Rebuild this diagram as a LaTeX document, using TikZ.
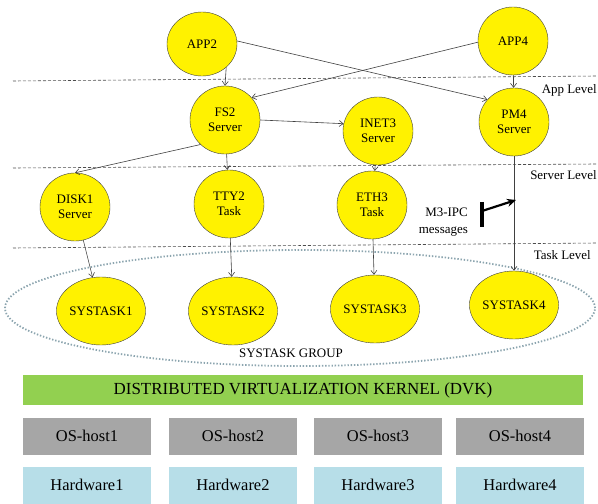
\documentclass[tikz,border=0pt]{standalone}
\usepackage{fontspec}
\setmainfont{Liberation Serif}
\usetikzlibrary{shapes.geometric,arrows.meta}
\definecolor{dvkgreen}{RGB}{146,208,80}
\definecolor{hostgray}{RGB}{166,166,166}
\definecolor{hwblue}{RGB}{183,222,232}
\definecolor{groupdot}{RGB}{140,165,175}
\definecolor{edgegray}{RGB}{64,64,64}
\tikzset{
  ProcStyle/.style = { ellipse, draw = black!75, fill = yellow,
                       minimum width = 70bp, minimum height = 68bp,
                       inner sep = 0pt, align = center,
                       font = \fontsize{13}{15}\selectfont },
  EdgeStyle/.style = { -{Straight Barb[length=4bp,width=6bp]},
                       draw = edgegray, line width = 0.6bp },
  LevelStyle/.style = { dash pattern = on 3bp off 2bp,
                        draw = black!70, line width = 0.6bp },
  LevelLabel/.style = { anchor = east, inner sep = 0pt,
                        font = \fontsize{13}{15}\selectfont },
  BoxStyle/.style = { minimum width = 128bp, minimum height = 37bp,
                      inner sep = 0pt, font = \fontsize{16.5}{18}\selectfont },
  IpcStyle/.style = { -{Stealth[length=9bp,width=8bp]},
                      line width = 2.2bp, black }
}

\begin{document}
\begin{tikzpicture}[x=1bp,y=-1bp]
  \useasboundingbox (0,0) rectangle (598,504);
  % level separators
  \draw[LevelStyle] (13,81) -- (597,76);
  \draw[LevelStyle] (13,168) -- (597,164);
  \draw[LevelStyle] (13,248) -- (597,243);
  \node[LevelLabel] (applvl) at (597,90) {App Level};
  \node[LevelLabel] (srvlvl) at (597,175) {Server Level};
  \node[LevelLabel] (tsklvl) at (591,255) {Task Level};

  % systask group
  \node[ellipse, draw = groupdot, line width = 1.8bp,
        dash pattern = on 1.4bp off 1.8bp,
        minimum width = 590bp, minimum height = 116bp] (group) at (300,308) {};
  \node[font=\fontsize{13}{15}\selectfont] (grouplbl) at (291,353) {SYSTASK GROUP};

  \node[ProcStyle, minimum height = 64bp](APP2) at (202,44) {APP2};
  \node[ProcStyle](APP4) at (513,41) {APP4};
  \node[ProcStyle](FS2) at (225,120) {FS2\\Server};
  \node[ProcStyle](INET3) at (378,131) {INET3\\Server};
  \node[ProcStyle](PM4) at (514,122) {PM4\\Server};
  \node[ProcStyle](DISK1) at (75,207) {DISK1\\Server};
  \node[ProcStyle](TTY2) at (229,204) {TTY2\\Task};
  \node[ProcStyle](ETH3) at (372,205) {ETH3\\Task};
  \node[ProcStyle, minimum width = 71bp](SYS1) at (101,311) {SYSTASK1};
  \node[ProcStyle, minimum width = 71bp](SYS2) at (233,311) {SYSTASK2};
  \node[ProcStyle, minimum width = 71bp](SYS3) at (375,309) {SYSTASK3};
  \node[ProcStyle, minimum width = 71bp](SYS4) at (514,305) {SYSTASK4};

  \draw[EdgeStyle] (APP2.-44) -- (FS2.north);
  \draw[EdgeStyle] (APP2.5) -- (PM4.140);
  \draw[EdgeStyle] (APP4.182) -- (FS2.40);
  \draw[EdgeStyle] (APP4) -- (PM4);
  \draw[EdgeStyle] (FS2.east) -- (INET3.168);
  \draw[EdgeStyle] (FS2.225) -- (DISK1.north);
  \draw[EdgeStyle] (FS2) -- (TTY2);
  \draw[EdgeStyle] (INET3) -- (ETH3);
  \draw[EdgeStyle] (PM4) -- (SYS4);
  \draw[EdgeStyle] (DISK1) -- (SYS1);
  \draw[EdgeStyle] (TTY2) -- (SYS2);
  \draw[EdgeStyle] (ETH3) -- (SYS3);

  % M3-IPC messages
  \node[anchor = east, align = right, inner sep = 0pt,
        font = \fontsize{13}{17}\selectfont] (ipclbl) at (468,222) {M3-IPC\\messages};
  \coordinate (ipctop) at (482,202);
  \coordinate (ipcbot) at (482,227);
  \coordinate (ipcbar) at (482,211);
  \coordinate (ipctip) at (516,200);
  \draw[line width = 3.2bp] (ipctop) -- (ipcbot);
  \draw[IpcStyle] (ipcbar) -- (ipctip);

  % kernel, hosts and hardware
  \node[fill = dvkgreen, minimum width = 560bp, minimum height = 30bp,
        inner sep = 0pt, font = \fontsize{17}{19}\selectfont] (DVK) at (303,390)
        {DISTRIBUTED VIRTUALIZATION KERNEL (DVK)};
  \node[BoxStyle, fill = hostgray](OS1) at (87,436) {OS-host1};
  \node[BoxStyle, fill = hostgray](OS2) at (233,436) {OS-host2};
  \node[BoxStyle, fill = hostgray](OS3) at (378,436) {OS-host3};
  \node[BoxStyle, fill = hostgray](OS4) at (520,436) {OS-host4};
  \node[BoxStyle, fill = hwblue](HW1) at (87,485) {Hardware1};
  \node[BoxStyle, fill = hwblue](HW2) at (233,485) {Hardware2};
  \node[BoxStyle, fill = hwblue](HW3) at (378,485) {Hardware3};
  \node[BoxStyle, fill = hwblue](HW4) at (520,485) {Hardware4};
\end{tikzpicture}
\end{document}
